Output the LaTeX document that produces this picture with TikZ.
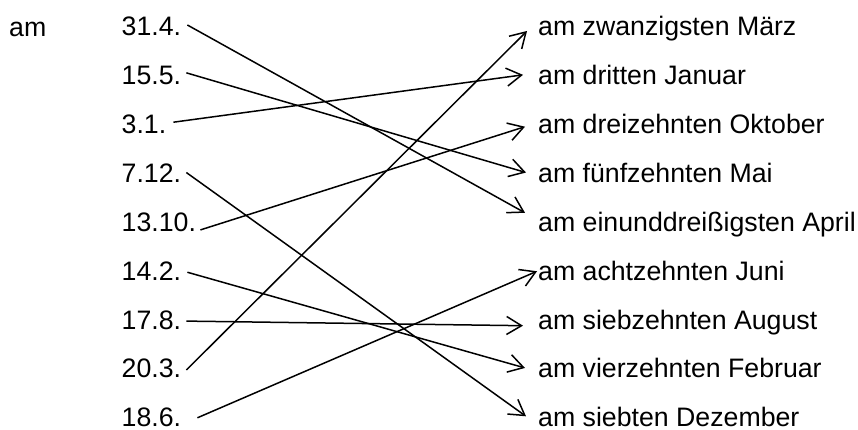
\documentclass[tikz,border=0pt]{standalone}
\usepackage{fontspec}
\setmainfont{Liberation Sans}
\usetikzlibrary{arrows.meta}
\begin{document}
\begin{tikzpicture}[x=1pt,y=-1pt,
  lbl/.style={anchor=base west,inner sep=0pt,text depth=0pt,font=\fontsize{26.7}{32}\selectfont},
  arr/.style={line width=1.5pt,-{Straight Barb[length=15pt,width=18pt,line width=1.5pt]}}]
\useasboundingbox (0,0) rectangle (858,430);
\node[lbl] (am) at (9,36.5) {am};
\foreach \t [count=\i] in {31.4.,15.5.,3.1.,7.12.,13.10.,14.2.,17.8.,20.3.,18.6.}
  \node[lbl] (l\i) at (121.5,{36+48.85*(\i-1)}) {\t};
\foreach \t [count=\i] in {am zwanzigsten März,am dritten Januar,am dreizehnten Oktober,am fünfzehnten Mai,am einunddreißigsten April,am achtzehnten Juni,am siebzehnten August,am vierzehnten Februar,am siebten Dezember}
  \node[lbl] (r\i) at (538,{36+48.85*(\i-1)}) {\t};
\draw[arr] ([shift={(6.1,-11)}]l1.base east) -- ([shift={(-13,-18.6)}]r5.base west);
\draw[arr] ([shift={(5.1,-12)}]l2.base east) -- ([shift={(-12,-10)}]r4.base west);
\draw[arr] ([shift={(7,-11.5)}]l3.base east) -- ([shift={(-15,-10)}]r2.base west);
\draw[arr] ([shift={(5.1,-10)}]l4.base east) -- ([shift={(-12,-10.5)}]r9.base west);
\draw[arr] ([shift={(4.3,-1.5)}]l5.base east) -- ([shift={(-13,-7)}]r3.base west);
\draw[arr] ([shift={(6.1,-8)}]l6.base east) -- ([shift={(-13,-10)}]r8.base west);
\draw[arr] ([shift={(5.1,-8)}]l7.base east) -- ([shift={(-15,-3.4)}]r7.base west);
\draw[arr] ([shift={(5.1,-8)}]l8.base east) -- ([shift={(-11,-5)}]r1.base west);
\draw[arr] ([shift={(16.1,-9)}]l9.base east) -- ([shift={(-1,-9)}]r6.base west);
\end{tikzpicture}
\end{document}
